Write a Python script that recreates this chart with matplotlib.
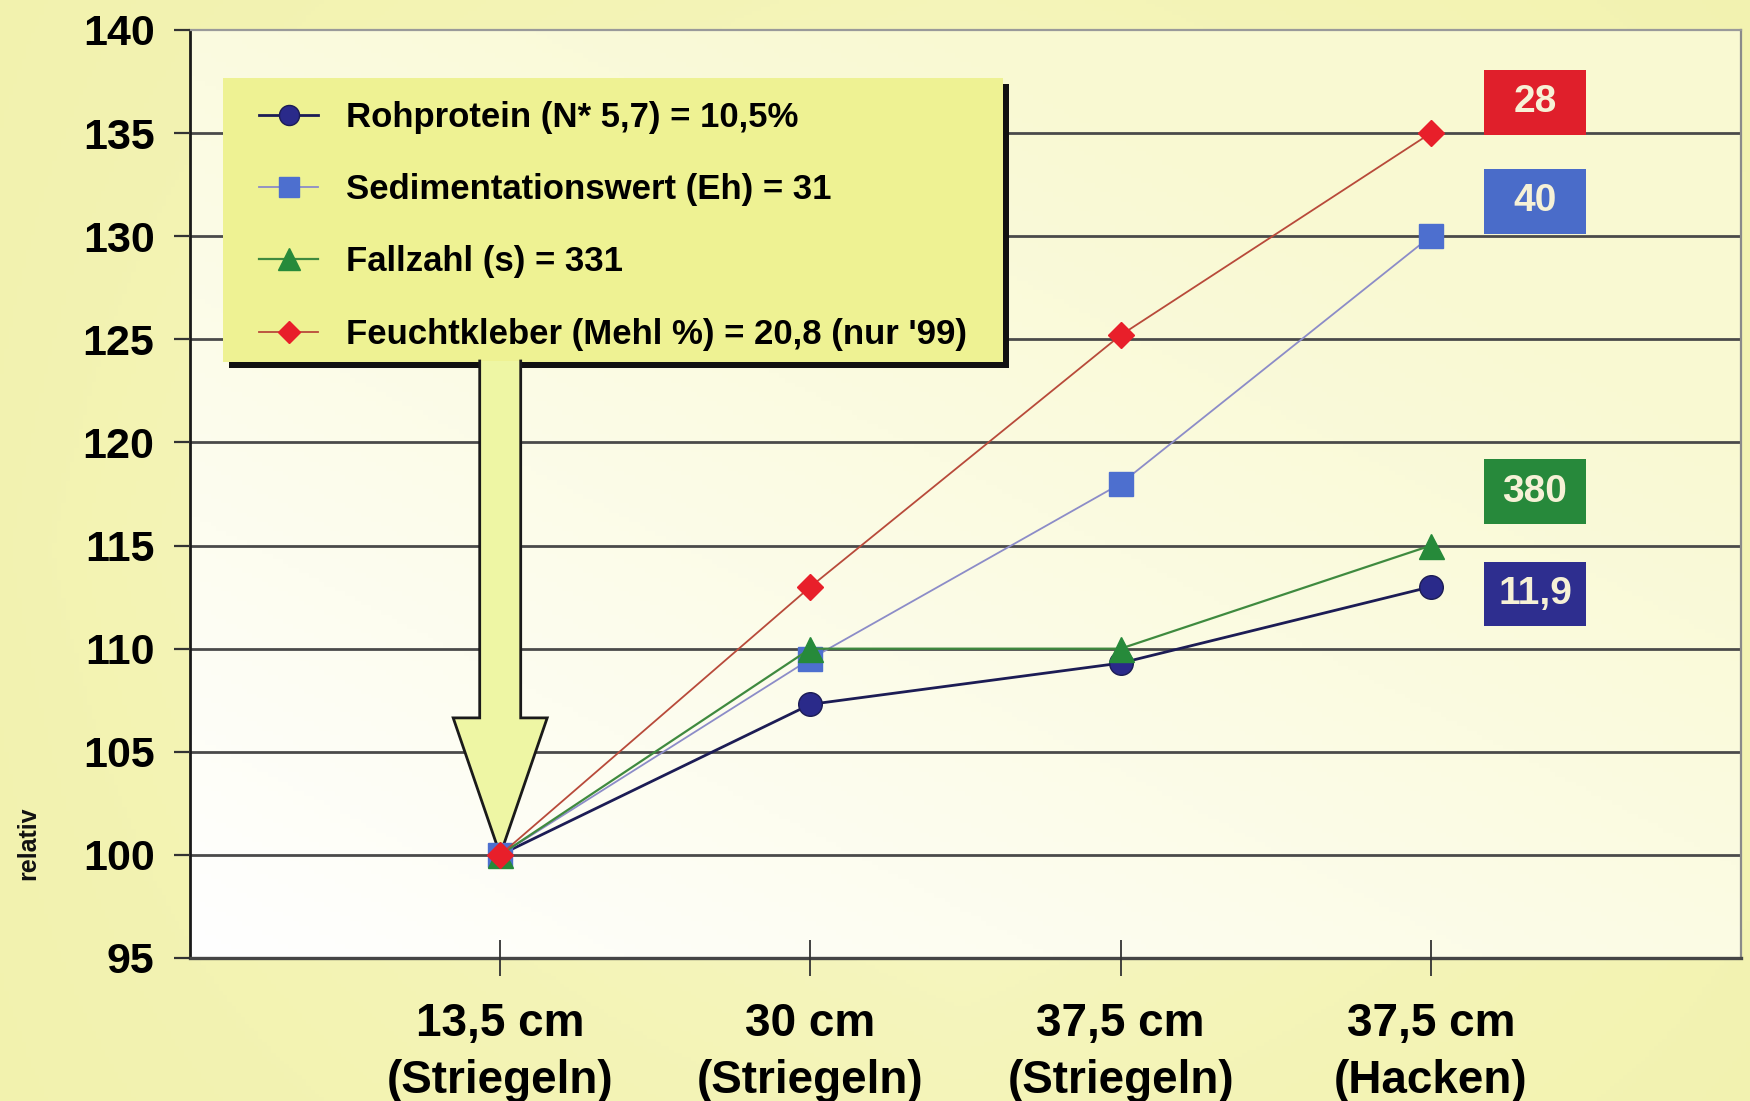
import matplotlib
matplotlib.use("Agg")
import matplotlib.pyplot as plt
import numpy as np
from matplotlib.patches import Polygon, Rectangle
from matplotlib.lines import Line2D
from matplotlib.colors import to_rgb

plt.rcParams['font.family'] = ['Liberation Sans', 'DejaVu Sans']
plt.rcParams['font.weight'] = 'bold'

# ---- data -------------------------------------------------------------
categories = ["13,5 cm\n(Striegeln)", "30 cm\n(Striegeln)",
              "37,5 cm\n(Striegeln)", "37,5 cm\n(Hacken)"]
rohprotein = [100, 107.3, 109.3, 113.0]
sedimentation = [100, 109.5, 118.0, 130.0]
fallzahl = [100, 110.0, 110.0, 115.0]
feuchtkleber = [100, 113.0, 125.2, 135.0]

series_labels = ["Rohprotein (N* 5,7) = 10,5%",
                 "Sedimentationswert (Eh) = 31",
                 "Fallzahl (s) = 331",
                 "Feuchtkleber (Mehl %) = 20,8 (nur '99)"]

end_texts = ["28", "40", "380", "11,9"]
end_text_levels = [136.5, 131.7, 117.6, 112.65]
yticks = [95, 100, 105, 110, 115, 120, 125, 130, 135, 140]

# ---- figure -----------------------------------------------------------
W, H = 1750, 1101
fig = plt.figure(figsize=(W / 100, H / 100), dpi=100)

def fx(x):
    return x / W

def fy(y):
    return 1 - y / H

# figure background: soft yellow gradient
bg = fig.add_axes([0, 0, 1, 1], zorder=-10)
bg.set_axis_off()
gx = np.linspace(0, 1, 400)[None, :]
gy = np.linspace(0, 1, 300)[:, None]
c_edge = np.array(to_rgb("#f2f2ad"))
c_mid = np.array(to_rgb("#f8f8cc"))
t = np.clip(1 - np.abs(gx - 0.55) * 1.6, 0, 1) * np.clip(1 - np.abs(gy - 0.5) * 1.2, 0, 1)
img = c_edge[None, None, :] * (1 - t[..., None]) + c_mid[None, None, :] * t[..., None]
bg.imshow(img, aspect='auto', extent=[0, 1, 0, 1], origin='lower')
bg.set_xlim(0, 1)
bg.set_ylim(0, 1)

ax = fig.add_axes([fx(190), fy(958), (1741 - 190) / W, (958 - 30) / H])
ax.set_xlim(0, 5)
ax.set_ylim(95, 140)
ax.set_facecolor('none')

# plot area gradient: white lower left to pale cream upper right
px_ = np.linspace(0, 1, 300)[None, :]
py_ = np.linspace(0, 1, 200)[:, None]
tt = np.clip((px_ * 0.6 + py_ * 0.7), 0, 1)
c0 = np.array(to_rgb("#ffffff"))
c1 = np.array(to_rgb("#f9f9d2"))
pimg = c0[None, None, :] * (1 - tt[..., None]) + c1[None, None, :] * tt[..., None]
ax.imshow(pimg, aspect='auto', extent=[0, 5, 95, 140], origin='lower', zorder=0)

# horizontal grid
ax.set_yticks(yticks)
for v in yticks[1:-1]:
    ax.axhline(v, color='#4a4a4a', lw=2.0, zorder=1)

ax.set_xticks([1, 2, 3, 4])
ax.set_xticklabels(categories, fontsize=33, fontweight='bold', linespacing=1.38)
ax.set_yticklabels([str(v) for v in yticks], fontsize=31, fontweight='bold')
ax.tick_params(axis='y', direction='out', length=11.5, width=1.6, color='#333333', pad=14)
ax.tick_params(axis='x', direction='inout', length=26, width=1.3, color='#333333', pad=19)

for side, col, lw in [('left', '#1a1a1a', 2.0), ('bottom', '#454545', 2.4),
                      ('top', '#9a9a9a', 1.6), ('right', '#8a8a8a', 1.6)]:
    ax.spines[side].set_color(col)
    ax.spines[side].set_linewidth(lw)
    ax.spines[side].set_zorder(1.5)

# ---- series -----------------------------------------------------------
x = [1, 2, 3, 4]
h1, = ax.plot(x, rohprotein, color='#1c1c55', lw=2.0, marker='o', ms=17,
              mfc='#2a2a8a', mec='#1c1c55', mew=1.0, zorder=4, clip_on=False)
h2, = ax.plot(x, sedimentation, color='#8c8cc8', lw=1.3, marker='s', ms=17,
              mfc='#4d6fcf', mec='#4d6fcf', zorder=4.1, clip_on=False)
h3, = ax.plot(x, fallzahl, color='#3f8a3f', lw=1.6, marker='^', ms=18,
              mfc='#268a3a', mec='#268a3a', zorder=4.2, clip_on=False)
h4, = ax.plot(x, feuchtkleber, color='#b84a3a', lw=1.3, marker='D', ms=13,
              mfc='#e81f2a', mec='#e81f2a', zorder=4.3, clip_on=False)

# ---- callout box with arrow pointing at the reference point ------------
box_fill = '#eef293'
arrow_fill = '#eef6a4'
bx0, bx1, by0, by1 = 223, 1003, 78, 362
shadow = Rectangle((fx(bx0 + 6), fy(by1 + 6)), (bx1 - bx0) / W, (by1 - by0) / H,
                   transform=fig.transFigure, facecolor='#111111', edgecolor='none',
                   zorder=2.4)
box = Rectangle((fx(bx0), fy(by1)), (bx1 - bx0) / W, (by1 - by0) / H,
                transform=fig.transFigure, facecolor=box_fill, edgecolor='none',
                zorder=2.5)
ax.add_patch(shadow)
ax.add_patch(box)

fig.canvas.draw()
tx, ty = ax.transData.transform((1, 100))
top = H - (by1 - 1)
sw, hw, hh = 20.5, 47, 137
pts = [(tx - sw, top), (tx - sw, ty + hh), (tx - hw, ty + hh), (tx, ty),
       (tx + hw, ty + hh), (tx + sw, ty + hh), (tx + sw, top)]
pts_fig = [(p / W, q / H) for p, q in pts]
arrow = Polygon(pts_fig, closed=True, transform=fig.transFigure,
                facecolor=arrow_fill, edgecolor='none', zorder=2.6)
ax.add_patch(arrow)
outline = Line2D([p for p, q in pts_fig], [q for p, q in pts_fig],
                 transform=fig.transFigure, color='#1a1a1a', lw=2.0, zorder=2.7,
                 solid_joinstyle='miter')
ax.add_line(outline)

leg = ax.legend([h1, h2, h3, h4], series_labels, loc='upper left',
                bbox_to_anchor=(fx(259), fy(101)), bbox_transform=fig.transFigure,
                frameon=False, prop={'size': 25, 'weight': 'bold'},
                handlelength=1.7, handletextpad=0.8, labelspacing=1.13,
                borderpad=0, borderaxespad=0, markerscale=0.85)
leg.set_zorder(5)

# ---- end-value boxes ---------------------------------------------------
box_colors = ['#e01f2b', '#4a6cc9', '#27893b', '#2e2e8f']
bw, bh = 0.329, 3.15
for txt, lvl, col in zip(end_texts, end_text_levels, box_colors):
    ax.add_patch(Rectangle((4.336 - bw / 2, lvl - bh / 2), bw, bh,
                           facecolor=col, edgecolor='none', zorder=3, clip_on=False))
    ax.text(4.336, lvl, txt, ha='center', va='center', fontsize=28,
            fontweight='bold', color='#f6f1d6', zorder=3.5)

fig.text(fx(28), fy(843), "relativ", rotation=90, ha='center', va='center',
         fontsize=18, fontweight='bold', color='#111111')

fig.savefig("out.png", dpi=100)
